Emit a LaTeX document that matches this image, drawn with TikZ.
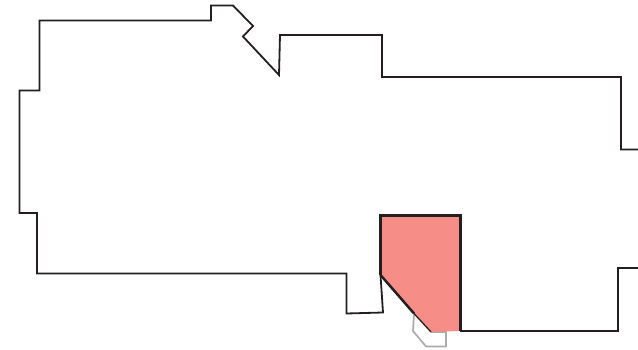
\documentclass[tikz,border=0pt]{standalone}
\definecolor{wallc}{HTML}{231F20}
\definecolor{redfill}{HTML}{F68D87}
\definecolor{grayc}{HTML}{ABABAB}
\tikzset{wall/.style={draw=wallc,line width=1.8pt,line join=miter},
 ghost/.style={draw=grayc,line width=1.7pt,line join=miter},
 room/.style={fill=redfill,draw=none}}
\begin{document}
\begin{tikzpicture}[x=1pt,y=-1pt]
\useasboundingbox (0,0) rectangle (638,350);
\draw[ghost] (414,314) -- (413,331) -- (426,346.5) -- (446,346.5) -- (446,332) -- (431,332);
\fill[room] (380.5,215.5) -- (460.5,215.5) -- (460.5,331) -- (431,332) -- (380.5,275) -- cycle;
\draw[wall] (638,149.5) -- (621,149.5) -- (621,77) -- (382,77) -- (382,35) -- (280,35) -- (279,75) -- (243,36.5) -- (253,26) -- (233,5.5) -- (211,5.5) -- (211,20.5) -- (39.5,20.5) -- (39.5,90.5) -- (19.5,90.5) -- (19.5,213) -- (37,213) -- (37,273.5) -- (346.5,273.5) -- (346.5,313.5) -- (383,312.5) -- (380.5,275);
\draw[wall,line width=2.3pt] (380.5,275) -- (380.5,215.5) -- (460.5,215.5) -- (460.5,331);
\draw[wall,line width=2pt] (460,331) -- (618,331) -- (618,268) -- (638,268);
\draw[wall,line width=2.5pt] (380.5,275) -- (414,313.5);
\draw[wall,line width=1.3pt] (414,313.5) -- (431,332);
\end{tikzpicture}
\end{document}
